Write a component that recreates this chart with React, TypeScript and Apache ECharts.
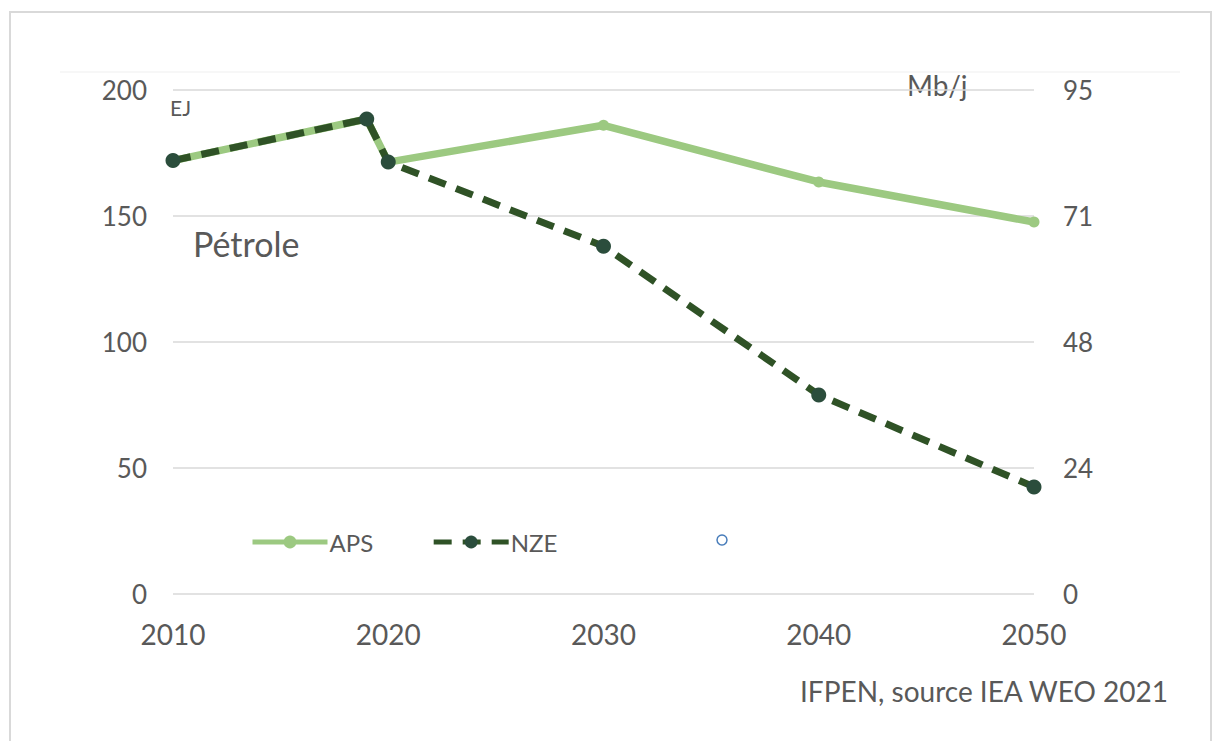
import React, { useEffect, useRef } from "react";
import * as echarts from "echarts";

const years = [2010, 2019, 2020, 2030, 2040, 2050];
const apsValues = [172, 188.5, 171.4, 186, 163.5, 147.6];
const nzeValues = [172, 188.5, 171.4, 138, 79, 42.5];
const xTicks = [2010, 2020, 2030, 2040, 2050];
const leftTicks = [0, 50, 100, 150, 200];
const rightMax = 95;

const FONT = "Lato, 'Open Sans', sans-serif";
const GREY = "#595959";

export default function App() {
  const ref = useRef<HTMLDivElement>(null);
  useEffect(() => {
    if (!ref.current) return;
    const chart = echarts.init(ref.current, null, { renderer: "svg" });
    const aps = years.map((y, i) => [y, apsValues[i]]);
    const nze = years.map((y, i) => [y, nzeValues[i]]);
    chart.setOption({
      animation: false,
      backgroundColor: "#ffffff",
      textStyle: { fontFamily: FONT },
      grid: { left: 173, right: 186, top: 90, bottom: 147, containLabel: false },
      xAxis: {
        type: "value",
        min: xTicks[0],
        max: xTicks[xTicks.length - 1],
        interval: 10,
        axisLine: { show: false },
        axisTick: { show: false },
        splitLine: { show: false },
        axisLabel: {
          color: GREY,
          fontSize: 28,
          fontFamily: FONT,
          margin: 26,
          formatter: (v: number) => String(v),
        },
      },
      yAxis: [
        {
          type: "value",
          min: leftTicks[0],
          max: leftTicks[leftTicks.length - 1],
          interval: 50,
          axisLine: { show: false },
          axisTick: { show: false },
          splitLine: { show: true, lineStyle: { color: "#d9d9d9", width: 1.5 } },
          axisLabel: { color: GREY, fontSize: 26, fontFamily: FONT, margin: 26 },
        },
        {
          type: "value",
          min: 0,
          max: rightMax,
          interval: rightMax / 4,
          position: "right",
          axisLine: { show: false },
          axisTick: { show: false },
          splitLine: { show: false },
          axisLabel: {
            color: GREY,
            fontSize: 26,
            fontFamily: FONT,
            margin: 29,
            formatter: (v: number) => String(Math.round(v)),
          },
        },
      ],
      legend: {
        left: 245,
        top: 525,
        itemWidth: 75,
        itemHeight: 16,
        itemGap: 58,
        lineStyle: { width: 5 },
        textStyle: { color: GREY, fontSize: 24, fontFamily: FONT, padding: [0, 0, 0, -3] },
        data: ["APS", "NZE"],
      },
      series: [
        {
          name: "APS",
          type: "line",
          data: aps,
          symbol: "circle",
          symbolSize: 11,
          lineStyle: { color: "#9cc981", width: 7.5 },
          itemStyle: { color: "#9cc981" },
          z: 2,
        },
        {
          name: "NZE",
          type: "line",
          data: nze,
          symbol: "circle",
          symbolSize: 15,
          lineStyle: { color: "#2f5226", width: 7, type: [18, 11] },
          itemStyle: { color: "#2b4d3c" },
          z: 3,
        },
      ],
      graphic: [
        {
          type: "rect",
          shape: { x: 10, y: 12, width: 1201, height: 740 },
          style: { fill: "none", stroke: "#d9d9d9", lineWidth: 2 },
          silent: true,
        },
        {
          type: "line",
          shape: { x1: 60, y1: 72, x2: 1180, y2: 72 },
          style: { stroke: "#f4f4f4", lineWidth: 1.5 },
          silent: true,
        },
        {
          type: "circle",
          shape: { cx: 722, cy: 540, r: 5 },
          style: { fill: "#ffffff", stroke: "#4a7ebb", lineWidth: 1.5 },
        },
        {
          type: "text",
          left: 170,
          top: 97,
          style: { text: "EJ", fill: GREY, fontSize: 21, fontFamily: FONT },
        },
        {
          type: "text",
          left: 907,
          top: 71,
          style: { text: "Mb/j", fill: GREY, fontSize: 28, fontFamily: FONT },
        },
        {
          type: "text",
          left: 193,
          top: 226,
          style: { text: "Pétrole", fill: GREY, fontSize: 34, fontFamily: FONT },
        },
        {
          type: "text",
          left: 800,
          top: 677,
          style: { text: "IFPEN, source IEA WEO 2021", fill: GREY, fontSize: 28, fontFamily: FONT },
        },
      ],
    });
    return () => chart.dispose();
  }, []);
  return (
    <div
      ref={ref}
      style={{ position: "fixed", left: 0, top: 0, width: 1220, height: 741 }}
    />
  );
}
